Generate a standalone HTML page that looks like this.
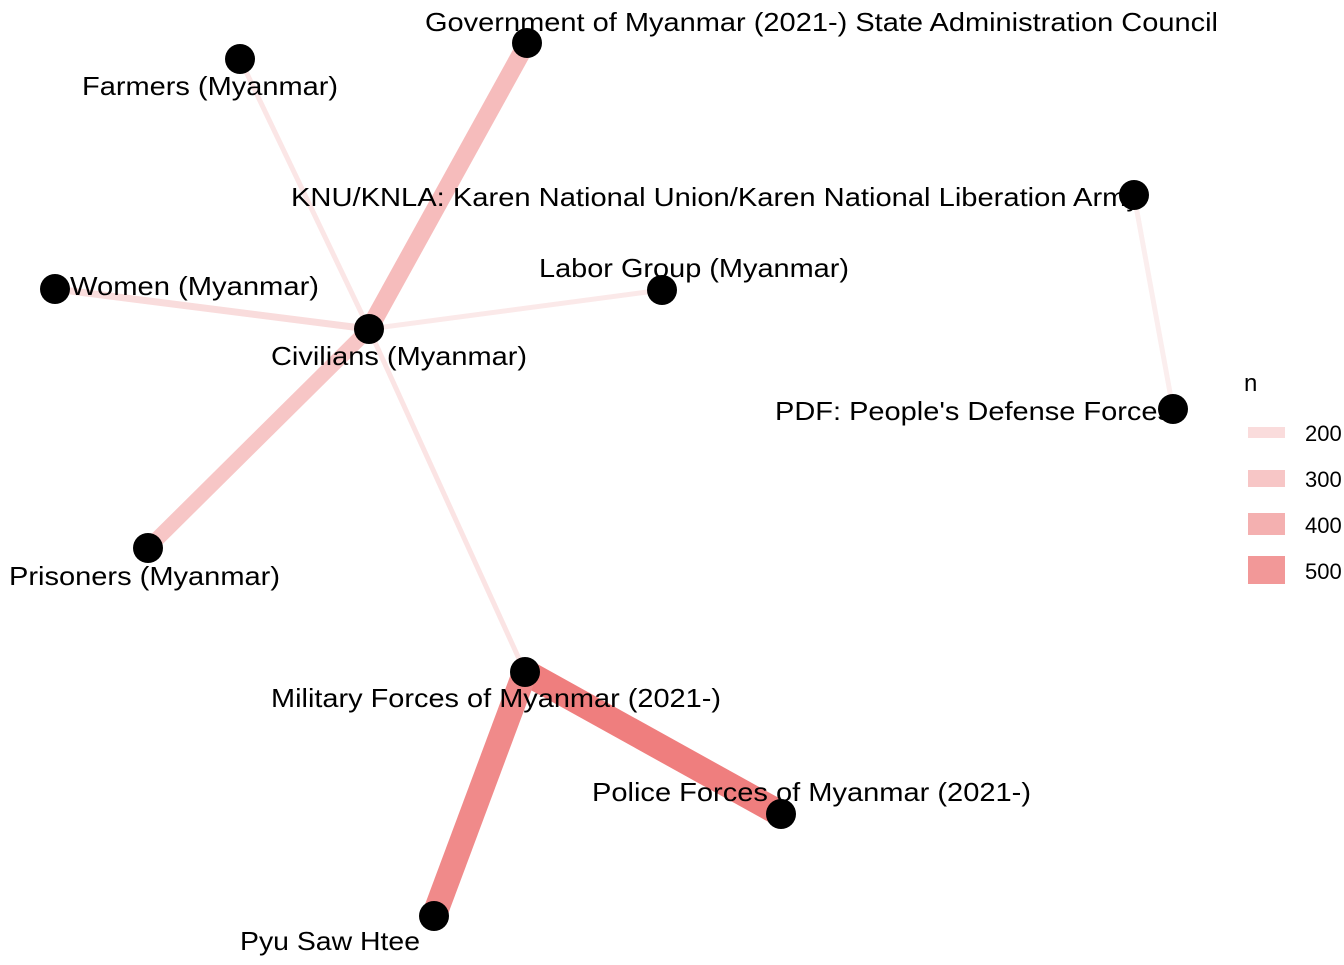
<!DOCTYPE html>
<html><head><meta charset="utf-8"><style>
html,body{margin:0;padding:0;background:#fff;}
svg text{font-family:"Liberation Sans",Arial,sans-serif;font-size:26px;fill:#000;}
</style></head><body>
<svg width="1344" height="960" viewBox="0 0 1344 960" xmlns="http://www.w3.org/2000/svg">
<g stroke-linecap="butt" fill="none">
<line x1="369" y1="329" x2="240" y2="59" stroke="#fbe6e6" stroke-width="5"/>
<line x1="369" y1="329" x2="55" y2="289" stroke="#f9dcdc" stroke-width="7"/>
<line x1="369" y1="329" x2="662" y2="290" stroke="#fbe9e9" stroke-width="5"/>
<line x1="369" y1="329" x2="525" y2="672" stroke="#fbe4e4" stroke-width="5"/>
<line x1="1134" y1="195" x2="1173" y2="409" stroke="#fbeeee" stroke-width="5"/>
<line x1="369" y1="329" x2="527" y2="43" stroke="#f6bcbc" stroke-width="18"/>
<line x1="369" y1="329" x2="148" y2="548" stroke="#f7c6c6" stroke-width="15"/>
<line x1="525" y1="672" x2="781" y2="814" stroke="#ef7e7e" stroke-width="26"/>
<line x1="525" y1="672" x2="434" y2="916" stroke="#f08a8a" stroke-width="25"/>
</g>
<text x="425" y="31" textLength="793" lengthAdjust="spacingAndGlyphs">Government of Myanmar (2021-) State Administration Council</text>
<text x="82" y="95" textLength="256" lengthAdjust="spacingAndGlyphs">Farmers (Myanmar)</text>
<text x="291" y="206" textLength="850" lengthAdjust="spacingAndGlyphs">KNU/KNLA: Karen National Union/Karen National Liberation Army</text>
<text x="70" y="295" textLength="249" lengthAdjust="spacingAndGlyphs">Women (Myanmar)</text>
<text x="539" y="277" textLength="310" lengthAdjust="spacingAndGlyphs">Labor Group (Myanmar)</text>
<text x="271" y="365" textLength="256" lengthAdjust="spacingAndGlyphs">Civilians (Myanmar)</text>
<text x="775" y="420" textLength="397" lengthAdjust="spacingAndGlyphs">PDF: People's Defense Forces</text>
<text x="9" y="585" textLength="271" lengthAdjust="spacingAndGlyphs">Prisoners (Myanmar)</text>
<text x="271" y="707" textLength="450" lengthAdjust="spacingAndGlyphs">Military Forces of Myanmar (2021-)</text>
<text x="592" y="801" textLength="439" lengthAdjust="spacingAndGlyphs">Police Forces of Myanmar (2021-)</text>
<text x="240" y="950" textLength="180" lengthAdjust="spacingAndGlyphs">Pyu Saw Htee</text>
<g fill="#000">
<circle cx="527" cy="43" r="15"/>
<circle cx="240" cy="59" r="15"/>
<circle cx="1134" cy="195" r="15"/>
<circle cx="55" cy="289" r="15"/>
<circle cx="662" cy="290" r="15"/>
<circle cx="369" cy="329" r="15"/>
<circle cx="1173" cy="409" r="15"/>
<circle cx="148" cy="548" r="15"/>
<circle cx="525" cy="672" r="15"/>
<circle cx="781" cy="814" r="15"/>
<circle cx="434" cy="916" r="15"/>
</g>
<text x="1244" y="391" style="font-size:24px">n</text>
<rect x="1248" y="427" width="37" height="11" fill="#fadcdc"/>
<rect x="1248" y="470" width="37" height="17" fill="#f7c6c6"/>
<rect x="1248" y="513" width="37" height="22" fill="#f4b0b0"/>
<rect x="1248" y="556" width="37" height="28" fill="#f29898"/>
<text x="1305" y="441" style="font-size:22px">200</text>
<text x="1305" y="487" style="font-size:22px">300</text>
<text x="1305" y="533" style="font-size:22px">400</text>
<text x="1305" y="579" style="font-size:22px">500</text>
</svg>
</body></html>
